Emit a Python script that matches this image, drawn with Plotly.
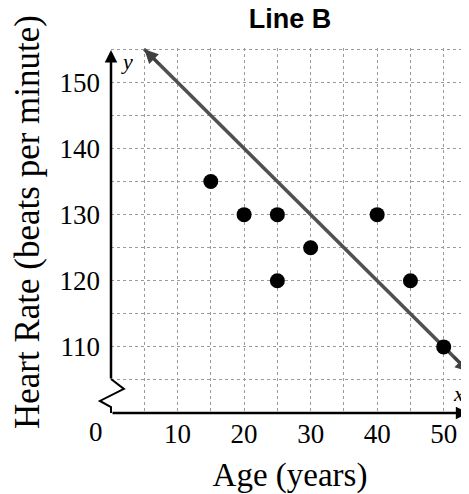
import plotly.graph_objects as go

# ---- data ----
ages = [15, 20, 25, 25, 30, 40, 45, 50]
heart_rates = [135, 130, 130, 120, 125, 130, 120, 110]
line_b_x = [5, 53.8]
line_b_y = [155, 106.2]
x_tick_vals = [10, 20, 30, 40, 50]
y_tick_vals = [110, 120, 130, 140, 150]
x_range = [0, 53.8]
y_range = [100, 155.2]

SERIF = "Liberation Serif"
grid = dict(gridcolor="#9a9a9a", griddash="dot", gridwidth=1)

# the page body has an 8px default margin, so the figure is 8px smaller than the window
W, H = 461, 486
ML, MT, MB = 103, 40, 81
PW, PH = W - ML, H - MT - MB

fig = go.Figure()

fig.add_trace(go.Scatter(
    x=line_b_x, y=line_b_y, mode="lines",
    line=dict(color="#505050", width=3.5), hoverinfo="skip", showlegend=False,
))
fig.add_trace(go.Scatter(
    x=ages, y=heart_rates, mode="markers",
    marker=dict(color="black", size=15), showlegend=False,
))

annotations = []
# arrowheads on Line B (both ends)
annotations.append(dict(x=line_b_x[-1], y=line_b_y[-1], ax=line_b_x[-1] - 2.5, ay=line_b_y[-1] + 2.5,
                        xref="x", yref="y", axref="x", ayref="y", text="", showarrow=True,
                        arrowhead=2, arrowsize=1.1, arrowwidth=2.5, arrowcolor="#404040"))
annotations.append(dict(x=line_b_x[0], y=line_b_y[0], ax=line_b_x[0] + 2.5, ay=line_b_y[0] - 2.5,
                        xref="x", yref="y", axref="x", ayref="y", text="", showarrow=True,
                        arrowhead=2, arrowsize=1.1, arrowwidth=2.5, arrowcolor="#404040"))
# y axis with arrow
annotations.append(dict(x=0, y=y_range[1] - 0.3, ax=0, ay=105, xref="x", yref="y", axref="x", ayref="y",
                        text="", showarrow=True, arrowhead=2, arrowsize=1.0, arrowwidth=2.5,
                        arrowcolor="black"))
# x axis with arrow
annotations.append(dict(x=x_range[1] - 0.1, y=100, ax=0, ay=100, xref="x", yref="y", axref="x", ayref="y",
                        text="", showarrow=True, arrowhead=2, arrowsize=1.0, arrowwidth=2.5,
                        arrowcolor="black"))
# axis letters
annotations.append(dict(x=2.4, y=153.2, xref="x", yref="y", text="<i>y</i>", showarrow=False,
                        font=dict(family=SERIF, size=22, color="black")))
annotations.append(dict(x=52.2, y=102.9, xref="x", yref="y", text="<i>x</i>", showarrow=False,
                        font=dict(family=SERIF, size=22, color="black")))
# origin label
annotations.append(dict(x=0, y=100, xref="x", yref="y", text="0", showarrow=False,
                        xshift=-15, yshift=-19, font=dict(family=SERIF, size=27, color="black")))
# y-axis title (placed as rotated text)
annotations.append(dict(x=(19 - ML) / PW, y=(MT + PH - 214) / PH, xref="paper", yref="paper",
                        text="Heart Rate (beats per minute)", textangle=-90, showarrow=False,
                        xanchor="center", yanchor="middle",
                        font=dict(family=SERIF, size=35, color="black")))

fig.update_layout(
    width=W, height=H,
    margin=dict(l=ML, r=0, t=MT, b=MB),
    paper_bgcolor="white", plot_bgcolor="white",
    title=dict(text="<b>Line B</b>", x=0.5, xref="paper", y=1 - 11 / H, yref="container",
               xanchor="center", yanchor="middle",
               font=dict(family="Liberation Sans", size=27, color="black")),
    xaxis=dict(range=x_range, tickvals=x_tick_vals, ticks="", showline=False, zeroline=False,
               automargin=False, showgrid=True, **grid,
               minor=dict(dtick=5, tick0=0, showgrid=True, **grid),
               tickfont=dict(family=SERIF, size=27, color="black"), ticklabelstandoff=2,
               title=dict(text="Age (years)", font=dict(family=SERIF, size=33, color="black"), standoff=14)),
    yaxis=dict(range=y_range, tickvals=y_tick_vals, ticks="", showline=False, zeroline=False,
               automargin=False, showgrid=True, **grid,
               minor=dict(dtick=5, tick0=100, showgrid=True, **grid),
               tickfont=dict(family=SERIF, size=27, color="black"), ticklabelstandoff=10),
    annotations=annotations,
    shapes=[dict(type="path", xref="paper", yref="paper",
                 path="M 0 0.093 L 0.036 0.066 L -0.031 0.033 L 0 0.016 L 0 0",
                 line=dict(color="black", width=2))],
)

fig.write_html("out.html", config={"displayModeBar": False})
